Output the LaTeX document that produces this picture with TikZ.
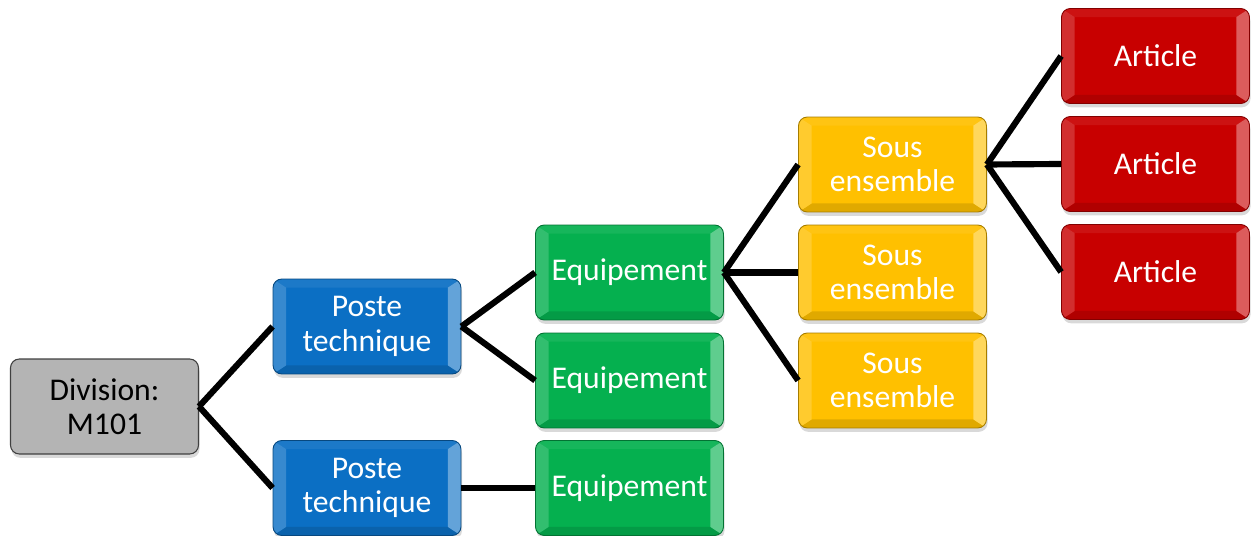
\documentclass[tikz,border=0pt]{standalone}
\usepackage{fontspec}
\setmainfont{Carlito}
\usetikzlibrary{calc,shadows}

\definecolor{divgray}{HTML}{B4B4B4}
\definecolor{posteblue}{HTML}{0B6FC4}
\definecolor{equipgreen}{HTML}{05B04F}
\definecolor{sousyellow}{HTML}{FFC000}
\definecolor{artred}{HTML}{C80000}

\tikzset{
  box/.style={rectangle, rounded corners=5pt, minimum width=3.76cm, minimum height=1.9cm,
    align=center, font=\fontsize{18}{19.5}\selectfont,
    drop shadow={shadow xshift=0.6pt, shadow yshift=-2.2pt, opacity=0.3}},
  % bevelled tile: lighter side strips, darker bottom strip
  bevel/.style={box, draw=#1!65!black, line width=0.5pt, fill=#1, text=white,
    path picture={
      \coordinate (nw) at (path picture bounding box.north west);
      \coordinate (se) at (path picture bounding box.south east);
      \coordinate (ne) at (nw -| se);
      \coordinate (sw) at (nw |- se);
      \coordinate (inw) at ($(nw)+(0.26cm,-0.17cm)$);
      \coordinate (ine) at ($(ne)+(-0.26cm,-0.17cm)$);
      \coordinate (isw) at ($(sw)+(0.26cm,0.17cm)$);
      \coordinate (ise) at ($(se)+(-0.26cm,0.17cm)$);
      \fill[#1!93!white, sharp corners] (nw) -- (ne) -- (ine) -- (inw) -- cycle;
      \fill[#1!88!black, sharp corners] (sw) -- (se) -- (ise) -- (isw) -- cycle;
      \fill[#1!82!white, sharp corners] (nw) -- (inw) -- (isw) -- (sw) -- cycle;
      \fill[#1!64!white, sharp corners] (ne) -- (ine) -- (ise) -- (se) -- cycle;
    }},
  link/.style={draw=black, line width=3.5pt}
}

\begin{document}
\begin{tikzpicture}[x=0.02cm, y=-0.02cm]
  \useasboundingbox (0,0) rectangle (1252,536);

  \node[box, draw=black!75, line width=0.6pt, fill=divgray] (div) at (104.5,406.5) {Division:\\M101};

  \node[bevel=posteblue] (pt1) at (367,326.5) {Poste\\technique};
  \node[bevel=posteblue] (pt2) at (367,488) {Poste\\technique};

  \node[bevel=equipgreen] (eq1) at (629.5,272.5) {Equipement};
  \node[bevel=equipgreen] (eq2) at (629.5,380.5) {Equipement};
  \node[bevel=equipgreen] (eq3) at (629.5,488) {Equipement};

  \node[bevel=sousyellow] (se1) at (892.5,164.5) {Sous\\ensemble};
  \node[bevel=sousyellow] (se2) at (892.5,272.5) {Sous\\ensemble};
  \node[bevel=sousyellow] (se3) at (892.5,380.5) {Sous\\ensemble};

  \node[bevel=artred] (ar1) at (1155.5,56) {Article};
  \node[bevel=artred] (ar2) at (1155.5,164) {Article};
  \node[bevel=artred] (ar3) at (1155.5,272) {Article};

  % connectors
  \draw[link] (div.east) -- (pt1.west);
  \draw[link] (div.east) -- (pt2.west);
  \draw[link] (pt1.east) -- (eq1.west);
  \draw[link] (pt1.east) -- (eq2.west);
  \draw[link] (pt2.east) -- (eq3.west);
  \foreach \s in {se1,se2,se3}
    \draw[link] (eq1.east) -- (\s.west);
  \foreach \a in {ar1,ar2,ar3}
    \draw[link] (se1.east) -- (\a.west);
\end{tikzpicture}
\end{document}
